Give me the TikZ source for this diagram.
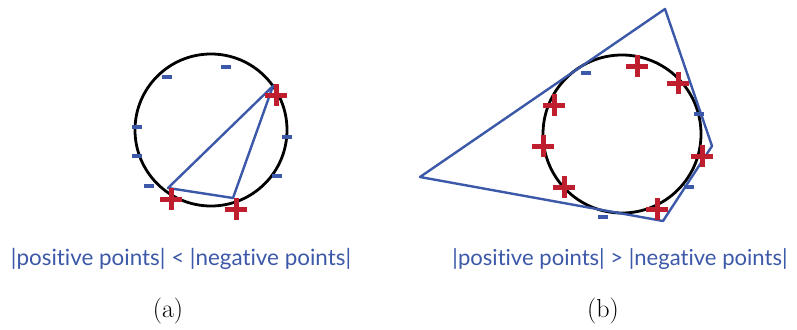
\documentclass[tikz,border=0pt]{standalone}
\usepackage{graphicx}
\usepackage{fontspec}
\setsansfont{Lato}[Ligatures={NoCommon,NoRare}]
\definecolor{hblue}{RGB}{60,88,168}
\definecolor{hred}{RGB}{190,30,45}
\tikzset{
  minussign/.style={fill=hblue,inner sep=0pt,minimum width=10pt,minimum height=4pt,draw=none},
  plusbar/.style={fill=hred,inner sep=0pt,draw=none},
  pics/plussign/.style={code={
    \node[plusbar,minimum width=22pt,minimum height=5pt] {};
    \node[plusbar,minimum width=5pt,minimum height=22pt] {};
  }},
  circ/.style={draw=black,line width=2.8pt},
  hull/.style={draw=hblue,line width=2.4pt,line join=round},
  lab/.style={text=hblue,font=\sffamily,inner sep=0pt},
  captext/.style={font=\fontsize{26}{30}\selectfont,inner sep=0pt}
}
\begin{document}
\begin{tikzpicture}[x=1pt,y=-1pt]
\useasboundingbox (0,0) rectangle (797,329);
% ---- (a)
\node[circle,minimum width=152pt,minimum height=150pt,circ,inner sep=0pt] (ca) at (211,130) {};
\coordinate (a1) at (273,86);
\coordinate (a2) at (168,188);
\coordinate (a3) at (233,198);
\draw[hull] (a1) -- (a2) -- (a3) -- cycle;
\foreach \p in {(167,77),(226,67),(137,127),(137,156),(149,186),(287,137),(277,176)}
  \node[minussign] at \p {};
\pic at (276,95) {plussign};
\pic at (171,199) {plussign};
\pic at (236,209) {plussign};
\node[lab] (la) at (181,259) {\resizebox{340pt}{!}{|positive points| < |negative points|}};
\node[captext] (capa) at (168,311) {(a)};
% ---- (b)
\node[circle,minimum width=158pt,minimum height=156pt,circ,inner sep=0pt] (cb) at (622,134) {};
\coordinate (b1) at (665,9);
\coordinate (b2) at (712,146);
\coordinate (b3) at (663,221);
\coordinate (b4) at (420,177);
\draw[hull] (b1) -- (b2) -- (b3) -- (b4) -- cycle;
\foreach \p in {(586,73),(699,114),(689,187),(603,217)}
  \node[minussign] at \p {};
\pic at (637,66) {plussign};
\pic at (678,83) {plussign};
\pic at (554,105) {plussign};
\pic at (543,146) {plussign};
\pic at (702,156) {plussign};
\pic at (564,187) {plussign};
\pic at (657,209) {plussign};
\node[lab] (lb) at (620,259) {\resizebox{335pt}{!}{|positive points| > |negative points|}};
\node[captext] (capb) at (603,311) {(b)};
\end{tikzpicture}
\end{document}
